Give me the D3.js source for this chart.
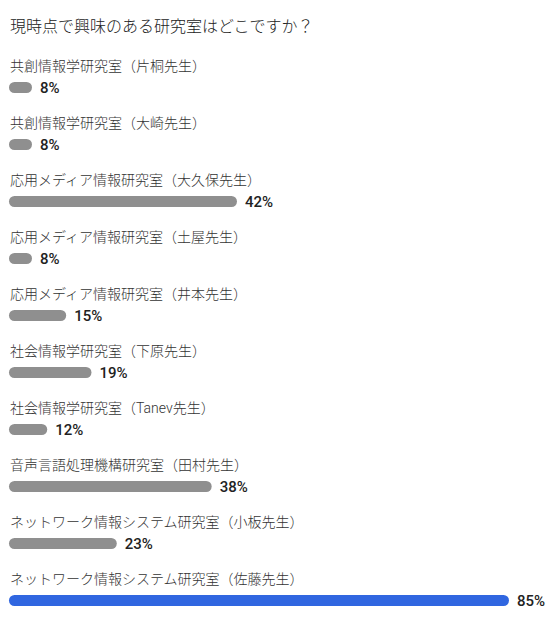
<!DOCTYPE html>
<html>
<head>
<meta charset="utf-8">
<script src="https://cdn.jsdelivr.net/npm/d3@7/dist/d3.min.js"></script>
<style>
  html, body { margin: 0; padding: 0; background: #ffffff; }
  svg { display: block; }
</style>
</head>
<body>
<svg id="chart" width="557" height="620"></svg>
<script>
const title = "現時点で興味のある研究室はどこですか？";
const categories = [
  "共創情報学研究室（片桐先生）",
  "共創情報学研究室（大崎先生）",
  "応用メディア情報研究室（大久保先生）",
  "応用メディア情報研究室（土屋先生）",
  "応用メディア情報研究室（井本先生）",
  "社会情報学研究室（下原先生）",
  "社会情報学研究室（Tanev先生）",
  "音声言語処理機構研究室（田村先生）",
  "ネットワーク情報システム研究室（小板先生）",
  "ネットワーク情報システム研究室（佐藤先生）"
];
const percents = [8, 8, 42, 8, 15, 19, 12, 38, 23, 85];
const percentLabels = ["8%", "8%", "42%", "8%", "15%", "19%", "12%", "38%", "23%", "85%"];

const svg = d3.select("#chart");
const font = "Roboto, 'Noto Sans CJK JP', 'Noto Sans', sans-serif";

const x0 = 9;
const maxP = d3.max(percents);
const x = d3.scaleLinear().domain([0, maxP]).range([x0 - 37.7, 509]);
const barH = 11;
const minW = 23;

const y = d3.scaleBand().domain(categories).range([50, 50 + 57 * categories.length]).padding(0);

svg.append("text")
  .attr("x", 10).attr("y", 32)
  .attr("font-family", font).attr("font-size", 16)
  .attr("font-weight", 300)
  .attr("fill", "#222222")
  .text(title);

const rows = svg.selectAll("g.row")
  .data(categories.map((c, i) => ({c, p: percents[i], l: percentLabels[i], i})))
  .join("g").attr("class", "row");

rows.append("text")
  .attr("x", 10)
  .attr("y", d => y(d.c) + 21)
  .attr("font-family", font).attr("font-size", 14)
  .attr("font-weight", 300)
  .attr("fill", "#333333")
  .text(d => d.c);

const barW = d => Math.max(x(d.p) - x0, minW);

rows.append("rect")
  .attr("x", x0)
  .attr("y", d => y(d.c) + 37.5 - barH / 2)
  .attr("width", barW)
  .attr("height", barH)
  .attr("rx", barH / 2).attr("ry", barH / 2)
  .attr("fill", d => d.p === maxP ? "#3066e0" : "#8f8f8f");

rows.append("text")
  .attr("x", d => x0 + barW(d) + 8)
  .attr("y", d => y(d.c) + 43)
  .attr("font-family", font).attr("font-size", 15)
  .attr("font-weight", 500)
  .attr("fill", "#222222")
  .text(d => d.l);
</script>
</body>
</html>
